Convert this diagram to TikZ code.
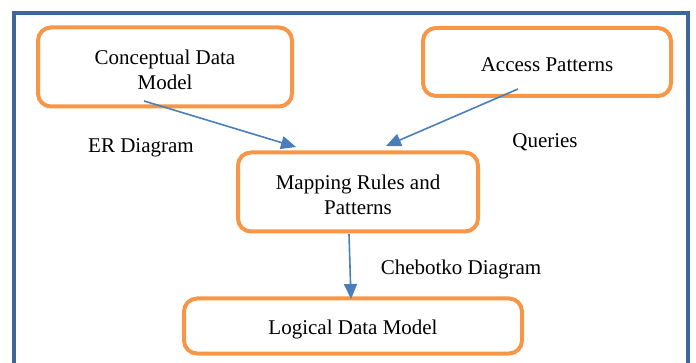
\documentclass[tikz,border=0pt]{standalone}
\usepackage{fontspec}
\setmainfont{Liberation Serif}
\usetikzlibrary{arrows.meta}
\definecolor{frameblue}{HTML}{3F6696}
\definecolor{boxorange}{HTML}{F79646}
\definecolor{arrowblue}{HTML}{4A7EBB}
\begin{document}
\begin{tikzpicture}[x=1pt,y=-1pt,
  stage/.style={draw=boxorange, line width=4pt, rounded corners=13pt, inner sep=0pt},
  stagetext/.style={align=center, inner sep=0pt, yshift=-3pt,
    font=\fontsize{21}{25}\selectfont},
  flow/.style={draw=arrowblue, line width=1.6pt,
    -{Triangle[length=15pt,width=13pt]}},
  tag/.style={font=\fontsize{21}{25}\selectfont, inner sep=0pt}]
\useasboundingbox (0,0) rectangle (696,363);
\clip (0,0) rectangle (696,363);
% outer frame, open past the bottom edge
\draw[frameblue, line width=4pt] (14,380) -- (14,13) -- (688,13) -- (688,380);
% stages
\node[stage, minimum width=254pt, minimum height=79pt] (concept) at (165,67) {};
\node[stage, minimum width=248pt, minimum height=68pt] (access) at (547,62) {};
\node[stage, minimum width=240pt, minimum height=79pt] (mapping) at (358,192) {};
\node[stage, minimum width=338pt, minimum height=55pt] (logical) at (353,326) {};
% stage captions, set a little below each box's centre
\node[stagetext] (conceptT) at (concept.center) {Conceptual Data\\Model};
\node[stagetext] (accessT) at (access.center) {Access Patterns};
\node[stagetext] (mappingT) at (mapping.center) {Mapping Rules and\\Patterns};
\node[stagetext] (logicalT) at (logical.center) {Logical Data Model};
% arrow end points
\coordinate (erA) at (144,101);
\coordinate (erB) at (296,147);
\coordinate (qA) at (518,89);
\coordinate (qB) at (386,146);
\coordinate (chA) at (349,234);
\coordinate (chB) at (351,299);
\draw[flow] (erA) -- (erB);
\draw[flow] (qA) -- (qB);
\draw[flow] (chA) -- (chB);
% labels
\node[tag] (er) at (141,148) {ER Diagram};
\node[tag] (q) at (545,142) {Queries};
\node[tag] (ch) at (461,269) {Chebotko Diagram};
\end{tikzpicture}
\end{document}
